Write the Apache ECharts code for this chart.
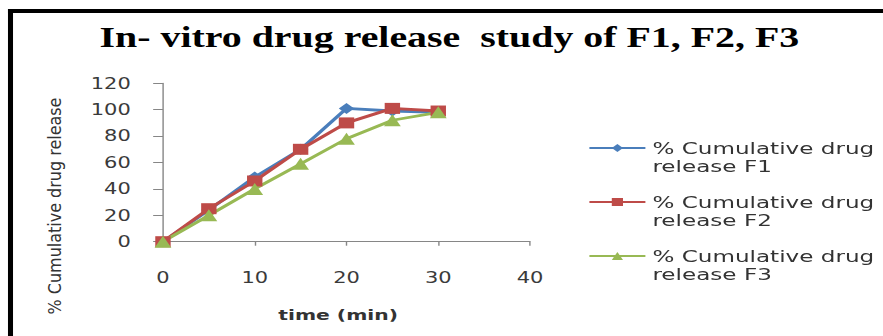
<!DOCTYPE html>
<html>
<head>
<meta charset="utf-8">
<script src="https://cdn.jsdelivr.net/npm/echarts@6/dist/echarts.min.js"></script>
<style>
  html, body { margin: 0; padding: 0; background: #fff; }
  #frame { position: absolute; left: 0; top: 0; width: 883px; height: 336px; overflow: hidden; background: #fff; }
  /* the chart is laid out on a narrower canvas and widened horizontally */
  #chart { position: absolute; left: 0; top: 0; width: 630.7px; height: 336px; transform: scaleX(1.4); transform-origin: 0 0; }
</style>
</head>
<body>
<div id="frame"><div id="chart"></div></div>
<script>
// sampling times (min)
const timePoints = [0, 5, 10, 15, 20, 25, 30];
// % cumulative drug release for each formulation
const releaseF1 = [0, 24, 49, 70, 101, 99, 98];
const releaseF2 = [0, 25, 46, 70, 90, 101, 99];
const releaseF3 = [0, 20, 40, 59, 78, 92, 98];
const seriesNames = [
  '% Cumulative drug release F1',
  '% Cumulative drug release F2',
  '% Cumulative drug release F3'
];
const xTicks = { min: 0, max: 40, interval: 10 };
const yTicks = { min: 0, max: 120, interval: 20 };

const W = 630.7, H = 336;
const chart = echarts.init(document.getElementById('chart'), null, { renderer: 'svg', width: W, height: H });

const pairs = arr => timePoints.map((t, i) => [t, arr[i]]);
const axisGrey = '#868686';
const labelFont = { fontFamily: 'DejaVu Sans', fontSize: 15, color: '#3a3a3a' };

function lineSeries(name, values, color, symbol, size) {
  return {
    name: name,
    type: 'line',
    data: pairs(values),
    symbol: symbol,
    symbolSize: size,
    lineStyle: { color: color, width: 2.8 },
    itemStyle: { color: color },
    emphasis: { disabled: true },
    animation: false
  };
}

chart.setOption({
  backgroundColor: '#fff',
  animation: false,
  title: {
    text: 'In- vitro drug release  study of F1, F2, F3',
    left: 316,
    textAlign: 'center',
    top: 18,
    textStyle: { fontFamily: 'Liberation Serif', fontWeight: 'bold', fontSize: 28.5, color: '#000' }
  },
  grid: { left: 116.4, right: 252.1, top: 83.3, bottom: 94.3 },
  xAxis: {
    type: 'value',
    min: xTicks.min, max: xTicks.max, interval: xTicks.interval,
    name: 'time (min)',
    nameLocation: 'middle',
    nameGap: 66,
    nameTextStyle: { fontFamily: 'DejaVu Sans', fontWeight: 'bold', fontSize: 14.5, color: '#333', padding: [0, 12, 0, 0] },
    axisLine: { show: true, lineStyle: { color: axisGrey, width: 1 } },
    axisTick: { show: true, length: 4, lineStyle: { color: axisGrey } },
    axisLabel: Object.assign({ margin: 28 }, labelFont),
    splitLine: { show: false }
  },
  yAxis: {
    type: 'value',
    min: yTicks.min, max: yTicks.max, interval: yTicks.interval,
    axisLine: { show: true, lineStyle: { color: axisGrey, width: 1 } },
    axisTick: { show: true, length: 7, lineStyle: { color: axisGrey } },
    axisLabel: Object.assign({ margin: 23 }, labelFont),
    splitLine: { show: false }
  },
  legend: {
    orient: 'vertical',
    left: 420,
    top: 121,
    padding: 0,
    itemWidth: 40,
    itemHeight: 10,
    itemGap: 0,
    selectedMode: false,
    data: seriesNames,
    // leading break keeps the marker level with the first text line
    formatter: name => '\n' + name.replace('drug ', 'drug\n'),
    textStyle: { fontFamily: 'DejaVu Sans', fontSize: 16.5, color: '#333', lineHeight: 18 }
  },
  graphic: [
    // black frame along the top and left edges
    { type: 'rect', silent: true, shape: { x: 5.7, y: 9, width: 640, height: 4 }, style: { fill: '#000' } },
    { type: 'rect', silent: true, shape: { x: 5.7, y: 9, width: 3.6, height: 340 }, style: { fill: '#000' } },
    // vertical axis title
    {
      type: 'text', silent: true,
      x: 39.3, y: 206, rotation: Math.PI / 2, scaleY: 0.8,
      style: {
        text: '% Cumulative drug release',
        fontFamily: 'DejaVu Sans', fontSize: 16, fill: '#333',
        align: 'center', verticalAlign: 'middle'
      }
    }
  ],
  series: [
    lineSeries(seriesNames[0], releaseF1, '#4A7EBB', 'diamond', 11),
    lineSeries(seriesNames[1], releaseF2, '#BE4B48', 'rect', 11),
    lineSeries(seriesNames[2], releaseF3, '#98B954', 'triangle', 12)
  ]
});
</script>
</body>
</html>
